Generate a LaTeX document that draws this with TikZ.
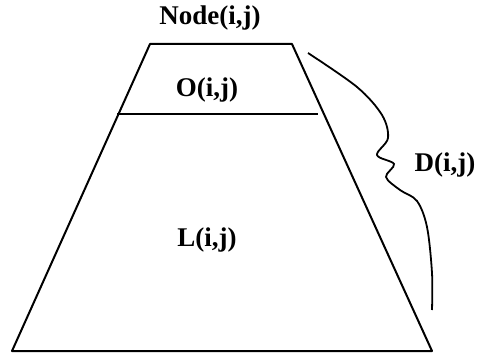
\documentclass[tikz,border=0pt]{standalone}
\usepackage{fontspec}
\setmainfont{Liberation Serif}
\usepackage{tikz}
\usetikzlibrary{positioning,calc}

\tikzset{
  lbl/.style={font=\fontsize{27}{31}\selectfont\bfseries,inner sep=0pt},
  edge/.style={line width=2pt,line join=round}
}

\begin{document}
\begin{tikzpicture}[x=1pt,y=-1pt]
    \useasboundingbox (0,0) rectangle (480,353);
    % trapezoid of the node
    \coordinate (tl) at (150,44);
    \coordinate (tr) at (292,44);
    \coordinate (br) at (432,351);
    \coordinate (bl) at (12,351);
    \draw[edge] (tl) -- (tr) -- (br) -- (bl) -- cycle;
    % divider between O and L
    \coordinate (dl) at (117,114);
    \coordinate (dr) at (318,114);
    \draw[line width=1.5pt] (dl) -- (dr);
    % labels
    \node[lbl] (node) at (210,18) {Node(i,j)};
    \node[lbl] (oij) at (207,90) {O(i,j)};
    \node[lbl] (lij) at (207,240) {L(i,j)};
    \node[lbl] (dij) at (445,165) {D(i,j)};
    % wavy brace for D
    \draw[line width=1.8pt] plot[smooth,tension=0.55] coordinates {
      (308,53) (357,87) (382,115) (388,138) (377,155) (394,164)
      (386,177) (400,190) (417,201) (427,227) (432,273) (432,310)};
  \end{tikzpicture}
\end{document}
